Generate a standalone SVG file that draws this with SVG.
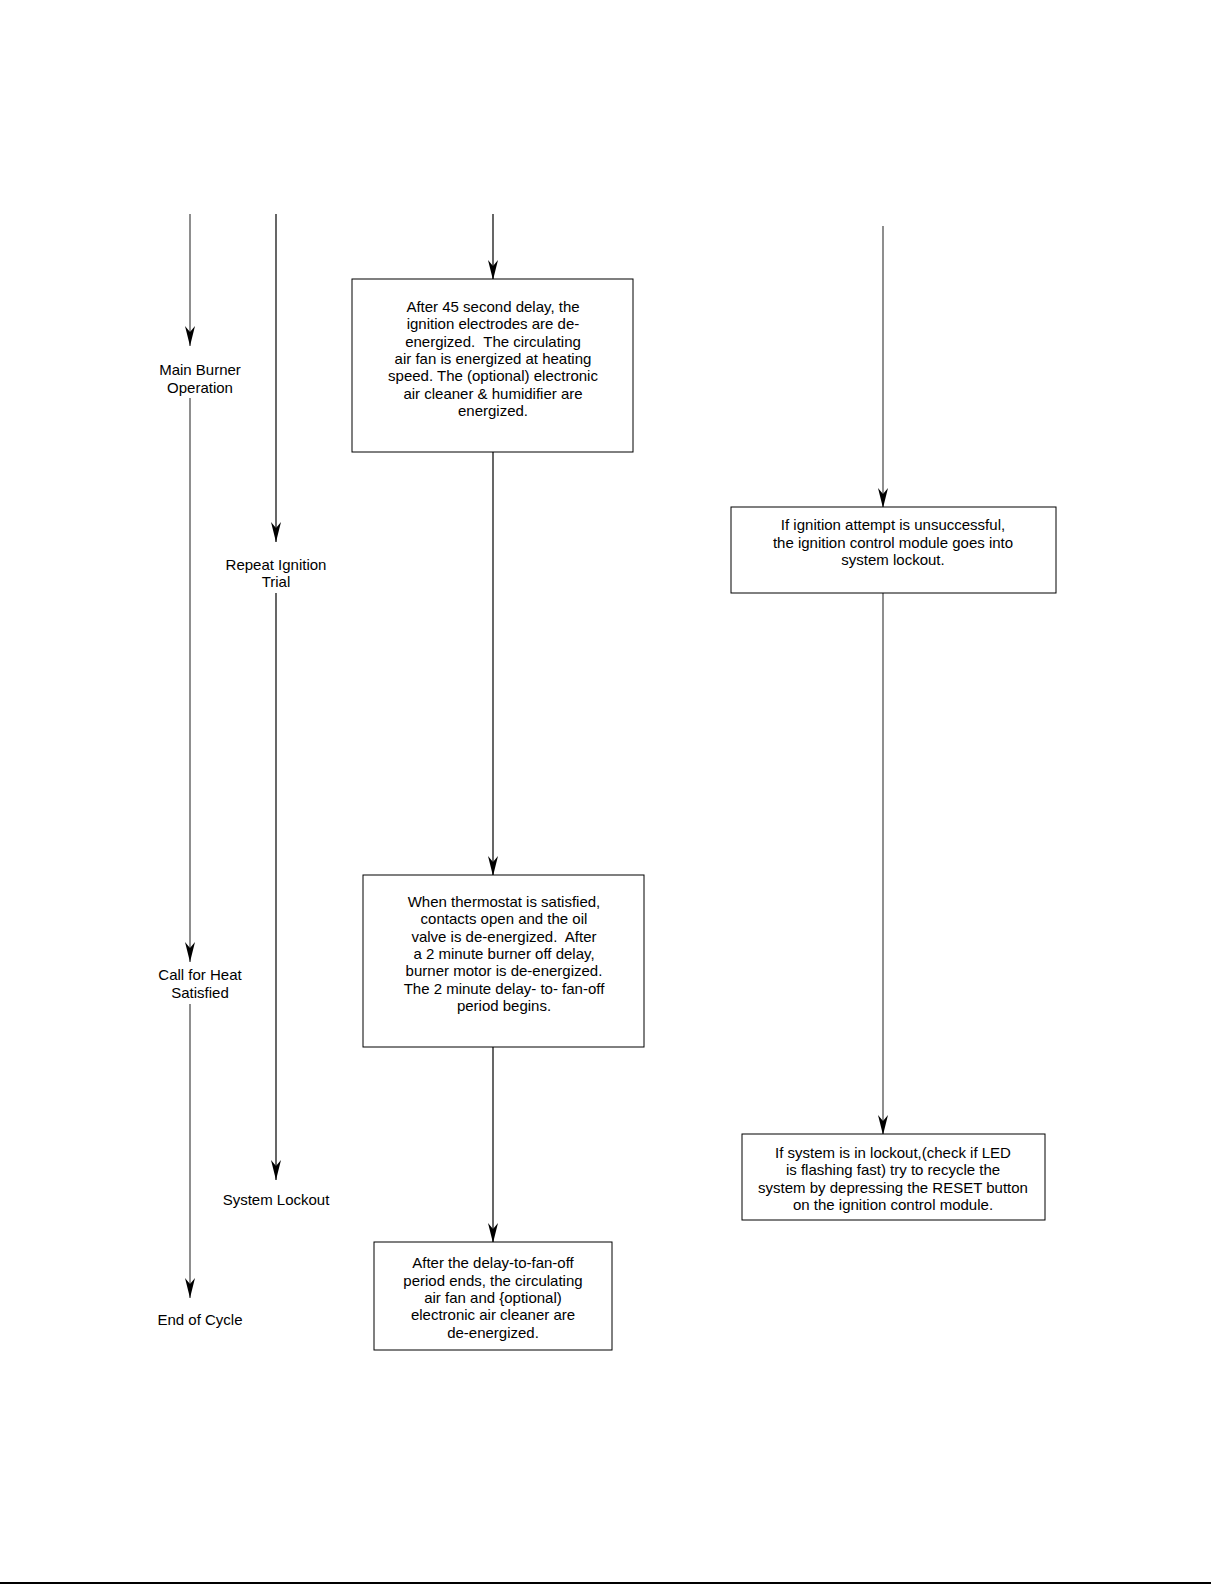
<svg xmlns="http://www.w3.org/2000/svg" width="1225" height="1585" viewBox="0 0 1225 1585">
<style>
.t{font-family:"Liberation Sans",Arial,sans-serif;font-size:15px;fill:#000;text-anchor:middle;white-space:pre}
.b{fill:#fff;stroke:#000;stroke-width:1}
.c{stroke:#000;stroke-width:1.2;fill:none}
</style>
<defs>
<marker id="ah" markerUnits="userSpaceOnUse" markerWidth="20" markerHeight="10" viewBox="0 0 20 10" refX="20" refY="5" orient="auto">
<path d="M0,0 L20,5 L0,10 L6,5 Z" fill="#000"/>
</marker>
</defs>
<rect width="1225" height="1585" fill="#fff"/>
<g id="connectors">
<line class="c" x1="190" y1="214" x2="190" y2="346" marker-end="url(#ah)" style="stroke:#444"/>
<line class="c" x1="190" y1="398" x2="190" y2="962" marker-end="url(#ah)" style="stroke:#444"/>
<line class="c" x1="190" y1="1004" x2="190" y2="1298" marker-end="url(#ah)" style="stroke:#444"/>
<line class="c" x1="276" y1="214" x2="276" y2="542" marker-end="url(#ah)"/>
<line class="c" x1="276" y1="593" x2="276" y2="1180" marker-end="url(#ah)"/>
<line class="c" x1="493" y1="214" x2="493" y2="280" marker-end="url(#ah)"/>
<line class="c" x1="493" y1="452" x2="493" y2="876" marker-end="url(#ah)"/>
<line class="c" x1="493" y1="1047" x2="493" y2="1243" marker-end="url(#ah)"/>
<line class="c" x1="883" y1="226" x2="883" y2="508" marker-end="url(#ah)" style="stroke:#444"/>
<line class="c" x1="883" y1="593" x2="883" y2="1135" marker-end="url(#ah)" style="stroke:#444"/>
</g>
<g id="label-main-burner">
<text class="t" x="200" y="375">Main Burner</text>
<text class="t" x="200" y="393">Operation</text>
</g>
<g id="label-call-for-heat">
<text class="t" x="200" y="980">Call for Heat</text>
<text class="t" x="200" y="998">Satisfied</text>
</g>
<g id="label-end-of-cycle">
<text class="t" x="200" y="1325">End of Cycle</text>
</g>
<g id="label-repeat-ignition">
<text class="t" x="276" y="570">Repeat Ignition</text>
<text class="t" x="276" y="587">Trial</text>
</g>
<g id="label-system-lockout">
<text class="t" x="276" y="1205">System Lockout</text>
</g>
<g id="box1">
<rect class="b" x="352" y="279" width="281" height="173"/>
<text class="t" x="493" y="312">After 45 second delay, the</text>
<text class="t" x="493" y="329">ignition electrodes are de-</text>
<text class="t" x="493" y="347">energized.  The circulating</text>
<text class="t" x="493" y="364">air fan is energized at heating</text>
<text class="t" x="493" y="381">speed. The (optional) electronic</text>
<text class="t" x="493" y="399">air cleaner &amp; humidifier are</text>
<text class="t" x="493" y="416">energized.</text>
</g>
<g id="box2">
<rect class="b" x="363" y="875" width="281" height="172"/>
<text class="t" x="504" y="907">When thermostat is satisfied,</text>
<text class="t" x="504" y="924">contacts open and the oil</text>
<text class="t" x="504" y="942">valve is de-energized.  After</text>
<text class="t" x="504" y="959">a 2 minute burner off delay,</text>
<text class="t" x="504" y="976">burner motor is de-energized.</text>
<text class="t" x="504" y="994">The 2 minute delay- to- fan-off</text>
<text class="t" x="504" y="1011">period begins.</text>
</g>
<g id="box3">
<rect class="b" x="374" y="1242" width="238" height="108"/>
<text class="t" x="493" y="1268">After the delay-to-fan-off</text>
<text class="t" x="493" y="1286">period ends, the circulating</text>
<text class="t" x="493" y="1303">air fan and {optional)</text>
<text class="t" x="493" y="1320">electronic air cleaner are</text>
<text class="t" x="493" y="1338">de-energized.</text>
</g>
<g id="box4">
<rect class="b" x="731" y="507" width="325" height="86"/>
<text class="t" x="893" y="530">If ignition attempt is unsuccessful,</text>
<text class="t" x="893" y="548">the ignition control module goes into</text>
<text class="t" x="893" y="565">system lockout.</text>
</g>
<g id="box5">
<rect class="b" x="742" y="1134" width="303" height="86"/>
<text class="t" x="893" y="1158">If system is in lockout,(check if LED</text>
<text class="t" x="893" y="1175">is flashing fast) try to recycle the</text>
<text class="t" x="893" y="1193">system by depressing the RESET button</text>
<text class="t" x="893" y="1210">on the ignition control module.</text>
</g>
<line x1="0" y1="1583" x2="1211" y2="1583" stroke="#000" stroke-width="2"/>
</svg>
